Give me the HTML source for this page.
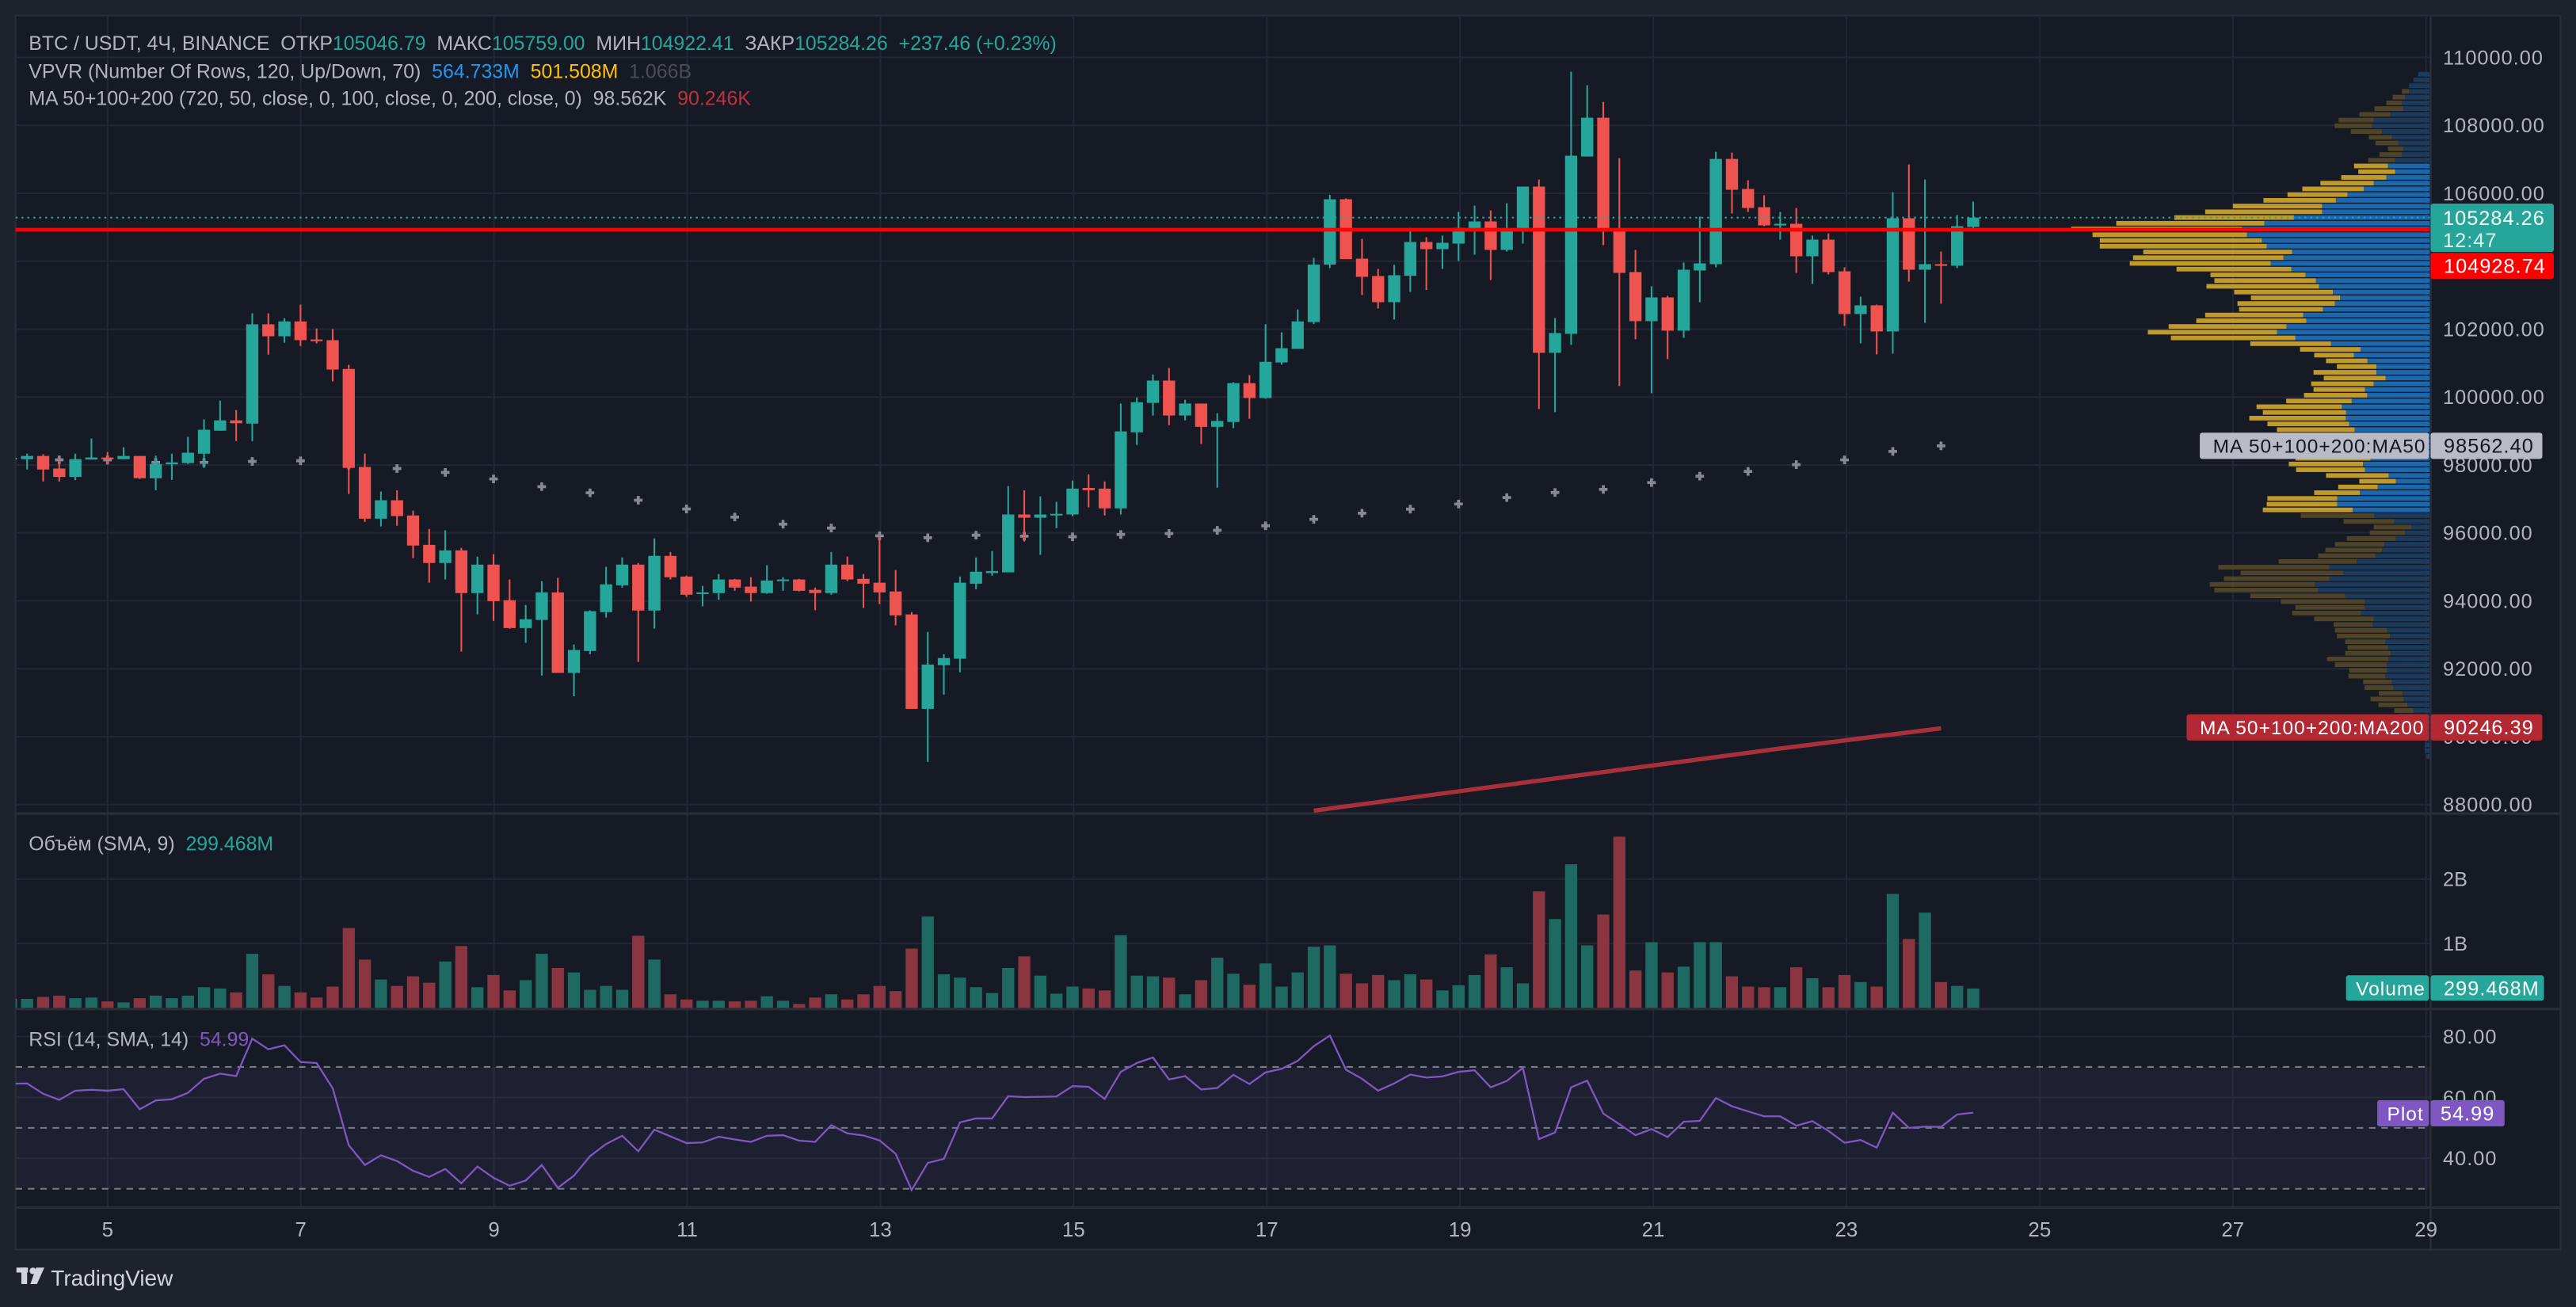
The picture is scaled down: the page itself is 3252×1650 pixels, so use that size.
<!DOCTYPE html>
<html><head><meta charset="utf-8">
<style>
html,body{margin:0;padding:0;background:#1e222d;}
svg{display:block;}
text{font-family:"Liberation Sans","Noto Sans CJK SC",sans-serif;}
.pre{white-space:pre;}
</style></head>
<body>
<svg id="chart" width="3252" height="1650" viewBox="0 0 1568 796" preserveAspectRatio="none" xmlns="http://www.w3.org/2000/svg">
<defs>
<clipPath id="pclip"><rect x="9.5" y="9.5" width="1469.5" height="485.5"/></clipPath>
<clipPath id="vclip"><rect x="9.5" y="496" width="1469.5" height="118"/></clipPath>
<clipPath id="rclip"><rect x="9.5" y="615" width="1469.5" height="120"/></clipPath>
</defs>
<rect x="0" y="0" width="1568" height="796" fill="#1e222d"/>
<rect x="9.5" y="9.5" width="1549" height="751.5" fill="#161a25" stroke="#2a2e39" stroke-width="1"/>
<g id="grid"></g>
<g id="profile" clip-path="url(#pclip)"></g>
<g id="ma" clip-path="url(#pclip)"></g>
<g id="candles" clip-path="url(#pclip)"></g>
<g id="vol" clip-path="url(#vclip)"></g>
<g id="rsi" clip-path="url(#rclip)"></g>
<g id="axes"></g>
<g id="overlay"></g>

<g font-size="12">
<text class="pre" x="17.5" y="30.5" fill="#b2b5be">BTC / USDT, 4Ч, BINANCE  ОТКР<tspan fill="#26a69a">105046.79</tspan>  МАКС<tspan fill="#26a69a">105759.00</tspan>  МИН<tspan fill="#26a69a">104922.41</tspan>  ЗАКР<tspan fill="#26a69a">105284.26</tspan>  <tspan fill="#26a69a">+237.46 (+0.23%)</tspan></text>
<text class="pre" x="17.5" y="47.5" fill="#b2b5be">VPVR (Number Of Rows, 120, Up/Down, 70)  <tspan fill="#2196f3">564.733M</tspan>  <tspan fill="#ffc107">501.508M</tspan>  <tspan fill="#4a4d56">1.066B</tspan></text>
<text class="pre" x="17.5" y="64" fill="#b2b5be">MA 50+100+200 (720, 50, close, 0, 100, close, 0, 200, close, 0)  98.562K  <tspan fill="#c2303b">90.246K</tspan></text>
<text class="pre" x="17.5" y="518" fill="#b2b5be">Объём (SMA, 9)  <tspan fill="#26a69a">299.468M</tspan></text>
<text class="pre" x="17.5" y="637" fill="#b2b5be">RSI (14, SMA, 14)  <tspan fill="#7e57c2">54.99</tspan></text>
</g>

<g>
<rect x="10" y="772" width="7" height="3" fill="#d1d4dc"/>
<rect x="13" y="772" width="3.5" height="10" fill="#d1d4dc"/>
<circle cx="20" cy="774" r="2" fill="#d1d4dc"/>
<polygon points="22,772 27,772 22.5,782 18.5,782" fill="#d1d4dc"/>
<text x="31" y="783" font-size="13.5" fill="#d1d4dc">TradingView</text>
</g>
</svg>

<script>
// ---------- data ----------
const opens = [98190,98171,98266,97895,97647,98161,98219,98171,98266,97609,
98019,98057,98333,99009,99314,99219,102142,101790,102228,101695,
101676,100828,97942,96418,96961,96514,95647,95114,95485,94228,
95066,94018,93199,93437,94247,91876,92523,93666,94457,95066,
93714,95323,94714,94199,94228,94628,94418,94228,94580,94628,
94323,94228,95066,94647,94533,94276,93599,90818,92104,92295,
94504,94818,94838,96542,96447,96514,96542,97323,97304,96723,
98961,99828,100485,99457,99809,99123,99266,100409,99971,101019,
101419,102209,103900,105825,104076,103564,102794,103571,104566,104356,
104519,104939,105172,104333,104939,106198,101303,101862,107083,108226,
104939,103680,102235,102934,101955,103727,103913,107013,106128,105592,
105055,105102,104146,104636,103703,102445,102701,101932,105265,103750,
103913,103867,105009];
const closes = [98210,98266,97866,97647,98171,98219,98180,98266,97609,98028,
98076,98361,99038,99314,99228,102142,101790,102228,101676,101666,
100809,97914,96418,96961,96495,95628,95114,95485,94228,95066,
93990,93199,93456,94247,91876,92552,93695,94485,95066,93714,
95323,94695,94180,94247,94628,94390,94228,94599,94628,94295,
94228,95066,94628,94504,94247,93571,90818,92123,92314,94533,
94857,94876,96542,96447,96542,96561,97304,97257,96723,98990,
99847,100485,99457,99809,99123,99295,100409,99971,101038,101438,
102228,103900,105824,104061,103540,102794,103587,104566,104356,104543,
104986,105172,104333,104962,106198,101303,101885,107107,108226,104939,
103657,102235,102934,101955,103750,103937,107013,106104,105568,105055,
105102,104146,104636,103680,102445,102701,101932,105265,103750,103913,
103867,105032,105284];
const highs = [98260,98333,98314,98152,98333,98780,98380,98523,98266,98276,
98333,98828,99342,99895,99619,102466,102466,102323,102723,102019,
102000,100952,98333,97218,97257,96657,96114,96076,95561,95304,
95371,94628,93876,94580,94676,92714,93723,94999,95276,95114,
95838,95437,94742,94437,94790,94647,94695,95047,94695,94647,
94390,95437,95304,94790,95904,94904,93666,93085,92428,94714,
95276,95466,97380,97257,97076,96914,97542,97723,97514,99809,
99990,100666,100857,99923,99809,99523,100438,100647,102142,101904,
102581,104100,105950,105848,104659,103773,103890,104986,104706,104752,
105452,105638,105498,105708,106198,106407,102328,109578,109181,108692,
107037,104333,103261,102981,103960,105312,107223,107200,106384,105941,
105452,105568,104752,104822,103820,102958,102724,106034,106850,106407,
104286,105358,105759];
const lows = [98150,97866,97514,97514,97552,98161,98009,98171,97590,97257,
97561,98028,97914,99009,98704,98704,101247,101600,101504,101580,
100457,97142,96323,96190,96209,95257,94533,94628,92504,93599,
93409,93180,92761,91799,91876,91190,92428,93504,94390,92199,
93180,94628,94114,93837,94028,94295,93980,94209,94295,94276,
93723,94180,94580,93790,93904,93276,90818,89256,91237,91895,
94342,94742,94838,95742,95352,96142,96495,96752,96514,96542,
98590,99457,99171,99314,98619,97333,99085,99361,99952,100952,
101419,102150,103800,104061,103004,102608,102282,103097,103152,103773,
104006,104193,103447,104286,104519,99648,99554,101536,107083,104473,
100324,101699,100114,101116,101745,102794,103820,105405,105452,105032,
104636,103657,103331,103610,102095,101582,101256,101279,103400,102188,
102748,103797,104922];
const volumes = [0.14,0.14,0.17,0.19,0.15,0.16,0.10,0.085,0.15,0.19,
0.15,0.19,0.32,0.30,0.24,0.84,0.52,0.34,0.24,0.16,
0.33,1.24,0.75,0.44,0.34,0.49,0.39,0.72,0.96,0.32,
0.51,0.27,0.43,0.84,0.62,0.55,0.28,0.34,0.28,1.12,
0.75,0.21,0.13,0.11,0.11,0.10,0.11,0.18,0.11,0.06,
0.16,0.21,0.13,0.21,0.34,0.26,0.92,1.42,0.52,0.47,
0.32,0.23,0.62,0.80,0.50,0.22,0.33,0.30,0.27,1.13,
0.50,0.49,0.47,0.21,0.43,0.78,0.53,0.36,0.69,0.33,
0.55,0.95,0.97,0.53,0.38,0.51,0.43,0.52,0.44,0.27,
0.35,0.51,0.83,0.63,0.38,1.81,1.38,2.23,0.97,1.45,
2.66,0.58,1.02,0.55,0.64,1.02,1.02,0.49,0.33,0.32,
0.32,0.63,0.46,0.32,0.51,0.40,0.33,1.77,1.07,1.48,
0.40,0.34,0.30];
const rsiValues = [64.5,64.6,61.2,59.2,62.2,62.5,62.2,62.7,56.1,59.0,
59.4,61.5,66.1,67.8,67.0,79.3,75.8,77.1,71.6,71.3,
63.0,44.3,37.8,41.0,39.1,35.9,33.9,36.5,31.8,37.3,
33.6,31.0,32.7,37.8,30.3,34.3,40.7,44.7,47.4,42.3,
49.4,47.2,45.0,45.2,47.1,46.2,45.4,47.4,47.6,45.8,
45.4,50.9,48.2,47.5,45.9,41.5,29.6,38.5,39.8,51.8,
53.1,53.1,60.4,60.1,60.2,60.3,63.7,63.5,59.5,68.4,
71.3,73.1,65.9,67.0,62.6,63.1,67.4,64.4,68.2,69.4,
72.0,76.8,80.3,69.1,66.1,62.2,64.6,67.5,66.5,66.9,
68.4,68.9,63.3,65.4,69.7,46.3,48.5,63.3,65.5,54.7,
51.2,47.6,49.6,47.0,52.0,52.3,59.8,57.1,55.4,53.8,
53.8,50.7,52.2,49.0,45.1,46.0,43.5,55.0,50.0,50.4,
50.3,54.4,55.0];
const ma50Index = [0,3,6,9,12,15,18,21,24,27,30,33,36,39,42,45,48,51,54,57,60,63,66,69,72,75,78,81,84,87,90,93,96,99,102,105,108,111,114,117,120];
const ma50Values = [98150,98152,98152,98076,98076,98104,98123,98000,97895,97781,97590,97362,97180,96961,96704,96466,96256,96142,95914,95857,95933,95904,95885,95952,95981,96076,96209,96400,96580,96700,96850,97040,97190,97280,97480,97670,97810,98010,98150,98400,98562];
const ma200Index = [81,90,100,110,120];
const ma200Values = [87820,88390,89020,89650,90246];
const profileTotal = [35,50,63,85,113,132,168,214,277,289,240,185,165,127,153,187,230,217,269,332,
387,432,505,598,682,776,952,1089,1024,1002,1002,870,901,911,769,666,654,678,594,543,
584,579,682,709,793,856,786,545,394,351,315,282,353,322,360,353,382,436,526,507,
548,493,464,440,430,420,415,408,428,406,315,214,278,351,493,495,507,392,262,170,
182,252,288,317,339,459,642,574,625,668,654,545,452,408,418,351,292,288,282,257,
250,257,312,288,245,247,202,198,155,180,156,108,95,85,80,70,15,15,15,10];
const profileUp = [35,50,63,63,75,85,80,120,170,175,145,115,95,80,85,105,127,105,132,170,
200,250,285,327,327,412,502,570,555,510,495,418,444,483,420,377,346,336,294,272,
288,324,384,375,435,464,408,300,210,230,189,162,162,134,170,197,190,237,267,254,
255,245,228,220,215,210,205,180,203,197,125,103,158,212,281,281,234,168,108,56,
75,103,138,145,165,222,305,262,305,348,339,257,197,198,209,170,173,129,121,135,
127,118,125,130,129,135,115,110,83,79,68,50,50,45,45,40,15,15,15,10];
const priceTicks = [110000,108000,106000,104000,102000,100000,98000,96000,94000,92000,90000,88000];
const dayTicks = [5,7,9,11,13,15,17,19,21,23,25,27,29];
const volTicks = [1,2];
const volTickLabels = ["1B","2B"];
const rsiTicks = [80,60,40];
const lastClose = 105284.26;
const redLevel = 104928.74;

// ---------- scales ----------
const NS = "http://www.w3.org/2000/svg";
const PANE_R = 1479;
function xOf(i){ return 6.7 + 9.79*i; }
function xDay(d){ return 65.5 + 58.8*(d-5); }
function yP(p){ return 35 + (110000-p)*0.020682; }
function yV(v){ return 613.8 - v*39.2; }
function yR(r){ return 649.8 + (70-r)*1.855; }
function mk(tag, attrs, parent){
  const e = document.createElementNS(NS, tag);
  for (const k in attrs) e.setAttribute(k, attrs[k]);
  parent.appendChild(e);
  return e;
}
const G = id => document.getElementById(id);

// ---------- grid ----------
const grid = G('grid');
dayTicks.forEach(d=>{
  const x = xDay(d);
  if (x > PANE_R) return;
  const l = mk('line',{x1:x,x2:x,y1:9.5,y2:735,stroke:'#232733','stroke-width':1},grid);
  
  
});
priceTicks.forEach(p=>{
  const l = mk('line',{x1:9.5,x2:PANE_R,y1:yP(p),y2:yP(p),stroke:'#232733','stroke-width':1},grid);
  
  
});
volTicks.forEach(v=>{
  const l = mk('line',{x1:9.5,x2:PANE_R,y1:yV(v),y2:yV(v),stroke:'#232733','stroke-width':1},grid);
  
  
});
rsiTicks.forEach(r=>{
  const l = mk('line',{x1:9.5,x2:PANE_R,y1:yR(r),y2:yR(r),stroke:'#232733','stroke-width':1},grid);
  
  
});
[495.5,614.5,735.5].forEach(y=>{
  const l = mk('line',{x1:9.5,x2:1558.5,y1:y,y2:y,stroke:'#2a2e39','stroke-width':1.5},grid);
  
  
});
const ab = mk('line',{x1:PANE_R+0.5,x2:PANE_R+0.5,y1:9.5,y2:761,stroke:'#2a2e39','stroke-width':1.2},grid);



// ---------- volume profile ----------
const prof = G('profile');
const profTop = 109591, rowStep = 168.8;
for (let k=0;k<profileTotal.length;k++){
  const inVA = k>=16 && k<=76;
  const yTop = yP(profTop - k*rowStep)+0.35;
  const h = 2.8;
  const tot = profileTotal[k]/4.988, up = profileUp[k]/4.988;
  const y1 = mk('rect',{x:PANE_R-tot,y:yTop,width:tot-up,height:h,fill:inVA?'#c29a2a':'#4f4328'},prof);
  
  
  const b1 = mk('rect',{x:PANE_R-up,y:yTop,width:up,height:h,fill:inVA?'#1a68b0':'#1b3a5c'},prof);
  
  
}

// ---------- moving averages ----------
const ma = G('ma');
for (let j=0;j<ma50Index.length;j++){
  const x = xOf(ma50Index[j]), y = yP(ma50Values[j]);
  const c = mk('path',{d:`M${x-2.6},${y}H${x+2.6}M${x},${y-2.6}V${y+2.6}`,stroke:'#868993','stroke-width':1.8},ma);
  
  
}
const ma200d = ma200Index.map((ix,j)=>(j?'L':'M')+xOf(ix)+','+yP(ma200Values[j])).join('');
const m2 = mk('path',{d:ma200d,stroke:'#a8303a','stroke-width':2.6,fill:'none'},ma);



// ---------- candles ----------
const cg = G('candles');
for (let i=0;i<opens.length;i++){
  const up = closes[i] >= opens[i];
  const col = up ? '#26a69a' : '#ef5350';
  const x = xOf(i);
  const w = mk('line',{x1:x,x2:x,y1:yP(highs[i]),y2:yP(lows[i]),stroke:col,'stroke-width':1},cg);
  
  
  const yt = yP(Math.max(opens[i],closes[i])), yb = yP(Math.min(opens[i],closes[i]));
  const b = mk('rect',{x:x-3.7,y:yt,width:7.4,height:Math.max(1,yb-yt),fill:col},cg);
  
  
}

// ---------- volume ----------
const vg = G('vol');
for (let i=0;i<volumes.length;i++){
  const up = closes[i] >= opens[i];
  const y = yV(volumes[i]);
  const r = mk('rect',{x:xOf(i)-3.7,y:y,width:7.4,height:613.8-y,fill:up?'#1e6a62':'#8a3540'},vg);
  
  
}

// ---------- RSI ----------
const rg = G('rsi');
const band = mk('rect',{x:9.5,y:yR(70),width:PANE_R-9.5,height:yR(30)-yR(70),fill:'rgba(126,87,194,0.09)'},rg);


[70,50,30].forEach(r=>{
  const l = mk('line',{x1:9.5,x2:PANE_R,y1:yR(r),y2:yR(r),stroke:'#787b86','stroke-width':1,'stroke-dasharray':'4 3.5'},rg);
  
  
});
const rd = rsiValues.map((v,i)=>(i?'L':'M')+xOf(i).toFixed(2)+','+yR(v).toFixed(2)).join('');
const rl = mk('path',{d:rd,stroke:'#7e57c2','stroke-width':1.1,fill:'none'},rg);



// ---------- axes ----------
const ax = G('axes');
priceTicks.forEach(p=>{
  const t = mk('text',{x:1487,y:yP(p)+4.3,fill:'#b2b5be','font-size':12.2,'letter-spacing':0.5},ax);
  t.textContent = p.toFixed(2);
  
  
});
volTicks.forEach((v,j)=>{
  const t = mk('text',{x:1487,y:yV(v)+4.3,fill:'#b2b5be','font-size':12.2},ax);
  t.textContent = volTickLabels[j];
  
  
});
rsiTicks.forEach(r=>{
  const t = mk('text',{x:1487,y:yR(r)+4.3,fill:'#b2b5be','font-size':12.2,'letter-spacing':0.5},ax);
  t.textContent = r.toFixed(2);
  
  
});
dayTicks.forEach(d=>{
  const t = mk('text',{x:xDay(d),y:753,fill:'#b2b5be','font-size':12.5,'text-anchor':'middle'},ax);
  t.textContent = String(d);
  
  
});

// ---------- overlay lines & tags ----------
const ov = G('overlay');
const dl = mk('line',{x1:9.5,x2:PANE_R,y1:yP(lastClose),y2:yP(lastClose),stroke:'#26a69a','stroke-width':1,'stroke-dasharray':'1.2 2.4'},ov);


const rl2 = mk('line',{x1:9.5,x2:PANE_R,y1:yP(redLevel),y2:yP(redLevel),stroke:'#ff0000','stroke-width':2.3},ov);



function tag(x,y,w,h,fill,txt,col,name,size){
  const r = mk('rect',{x:x,y:y,width:w,height:h,fill:fill,rx:1.5},ov);
  
  
  if (txt!==null){
    const t = mk('text',{x:x+(w>60?8:6),y:y+h/2+4.3,fill:col,'font-size':size||12.2,'letter-spacing':0.5},ov);
    t.textContent = txt;
    
    
  }
}
tag(1479.5,124,75,29.5,'#26a69a',null,'#fff','last-price-tag');
const t1 = mk('text',{x:1487,y:137,fill:'#ffffff','font-size':12.2,'letter-spacing':0.5},ov);
t1.textContent = lastClose.toFixed(2);


const t2 = mk('text',{x:1487,y:150.5,fill:'#e0f2f1','font-size':12.2,'letter-spacing':0.5},ov);
t2.textContent = '12:47';


tag(1479.5,154,75,16,'#ff0000',redLevel.toFixed(2),'#fff','level-price-label');
tag(1339,263.5,139.5,16,'#b8bbc6','MA 50+100+200:MA50','#131722','ma50-name-label',11.8);
tag(1479.5,263.5,68,16,'#b8bbc6','98562.40','#131722','ma50-value-label');
tag(1331,435,147.5,16,'#b22833','MA 50+100+200:MA200','#fff','ma200-name-label',11.8);
tag(1479.5,435,68,16,'#b22833','90246.39','#fff','ma200-value-label');
tag(1428,594,50.5,15.5,'#26a69a','Volume','#fff','volume-name-label',11.8);
tag(1479.5,594,69,15.5,'#26a69a','299.468M','#fff','volume-value-label');
tag(1447,670,31.5,16,'#7e57c2','Plot','#fff','rsi-name-label',11.8);
tag(1479.5,670,45,16,'#7e57c2','54.99','#fff','rsi-value-label');
</script>
</body></html>
